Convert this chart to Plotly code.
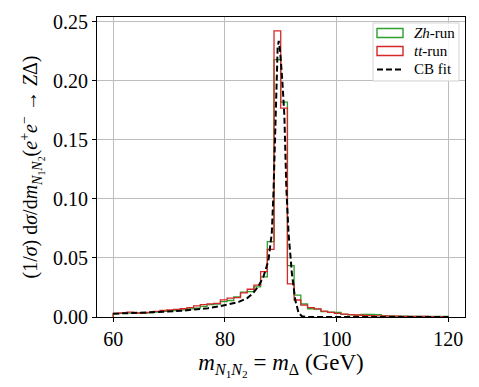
import numpy as np
import plotly.graph_objects as go

# histogram binning: 50 bins of 1.2 GeV between 60 and 120
bin_lo = 60.0
bin_hi = 120.0
n_bins = 50

# normalised bin contents, tt-run
tt_run = [
    0.0030, 0.0035, 0.0042, 0.0034, 0.0036, 0.0040, 0.0048, 0.0055, 0.0060, 0.0065,
    0.0070, 0.0080, 0.0095, 0.0105, 0.0112, 0.0115, 0.0145, 0.0160, 0.0165, 0.0205,
    0.0235, 0.0270, 0.0385, 0.0573, 0.2425, 0.1770, 0.0280, 0.0144, 0.0100, 0.0080,
    0.0068, 0.0050, 0.0040, 0.0030, 0.0024, 0.0020, 0.0017, 0.0014, 0.0012, 0.0010,
    0.0009, 0.0008, 0.0007, 0.0006, 0.0006, 0.0005, 0.0005, 0.0004, 0.0004, 0.0004,
]

# normalised bin contents, Zh-run
zh_run = [
    0.0028, 0.0030, 0.0033, 0.0032, 0.0030, 0.0036, 0.0042, 0.0048, 0.0052, 0.0055,
    0.0060, 0.0068, 0.0075, 0.0090, 0.0105, 0.0110, 0.0130, 0.0140, 0.0170, 0.0210,
    0.0215, 0.0255, 0.0340, 0.0638, 0.2180, 0.1820, 0.0436, 0.0185, 0.0110, 0.0070,
    0.0066, 0.0045, 0.0042, 0.0040, 0.0022, 0.0018, 0.0016, 0.0022, 0.0022, 0.0020,
    0.0010, 0.0009, 0.0008, 0.0007, 0.0006, 0.0005, 0.0005, 0.0005, 0.0006, 0.0005,
]

# crystal-ball fit curve
fit_x = [60, 63, 66, 69, 72, 75, 77, 79, 81, 82.5, 84, 85, 86, 86.9, 87.8, 88.4,
         88.7, 89.0, 89.2, 89.45, 89.65, 89.9, 90.3, 90.65, 91.0, 91.4, 92.0, 92.6,
         93.2, 93.8, 95, 100, 110, 120]
fit_y = [0.0028, 0.0032, 0.0037, 0.0044, 0.0052, 0.0062, 0.0075, 0.0090, 0.0110,
         0.0128, 0.0160, 0.0200, 0.0260, 0.0340, 0.0480, 0.0710, 0.1050, 0.1600,
         0.2000, 0.2280, 0.2340, 0.2250, 0.1990, 0.1710, 0.1100, 0.0710, 0.0370,
         0.0144, 0.0035, 0.0006, 0.0, 0.0, 0.0, 0.0]

x_ticks = [60, 80, 100, 120]
y_ticks = [0.00, 0.05, 0.10, 0.15, 0.20, 0.25]

legend_labels = ["<i>Zh</i>-run", "<i>tt</i>-run", "CB fit"]

GREEN = "#2ca02c"
RED = "#d62728"
FONT = "Liberation Serif"

# the page body adds an 8px offset, so the figure margins are shifted by it
OFF = 8
W, H = 479, 387
L, R, T, B = 97 - OFF, 14 + OFF, 17 - OFF, 70 + OFF

edges = np.linspace(bin_lo, bin_hi, n_bins + 1)


def step_outline(values):
    xs = [edges[0]] + list(edges[:-1]) + [edges[-1]]
    ys = [0.0] + list(values) + [0.0]
    return xs, ys


def px(x):
    return (x - OFF - L) / (W - L - R)


def py(y):
    return 1 - (y - OFF - T) / (H - T - B)


fig = go.Figure()

for vals, col in [(zh_run, GREEN), (tt_run, RED)]:
    xs, ys = step_outline(vals)
    fig.add_trace(go.Scatter(x=xs, y=ys, mode="lines", line=dict(color=col, width=1.3, shape="hv"),
                             showlegend=False, hoverinfo="skip"))

fig.add_trace(go.Scatter(x=fit_x, y=fit_y, mode="lines", showlegend=False,
                         line=dict(color="black", width=2, dash="6px,3px")))

axis_common = dict(
    showline=True, linecolor="black", linewidth=1.2, mirror=True,
    ticks="outside", ticklen=4, tickcolor="black", automargin=False,
    showgrid=True, gridcolor="#bdbdbd", gridwidth=1,
    zeroline=False, tickfont=dict(family=FONT, size=20, color="black"),
)

fig.update_xaxes(range=[57.1, 123.0], tickvals=x_ticks, ticktext=[str(t) for t in x_ticks],
                 title=dict(text="<i>m</i><sub><i>N</i><sub>1</sub><i>N</i><sub>2</sub></sub> = <i>m</i><sub>Δ</sub> (GeV)",
                            font=dict(family=FONT, size=23, color="black"), standoff=4),
                 **axis_common)
fig.update_yaxes(range=[0, 0.2542], tickvals=y_ticks, ticktext=[f"{t:.2f}" for t in y_ticks],
                 title=dict(text="(1/<i>σ</i>) d<i>σ</i>/d<i>m</i><sub><i>N</i><sub>1</sub><i>N</i><sub>2</sub></sub>"
                                 "(<i>e</i><sup>+</sup><i>e</i><sup>−</sup> → <i>Z</i>Δ)",
                            font=dict(family=FONT, size=20, color="black"), standoff=9),
                 **axis_common)

# hand-drawn legend box in the matplotlib style
shapes = [dict(type="rect", xref="paper", yref="paper", x0=px(373), x1=px(459), y0=py(81), y1=py(23),
               line=dict(color="#d5d5d5", width=1), fillcolor="rgba(255,255,255,0.85)", layer="above")]
rows = [33, 51, 69]
shapes.append(dict(type="rect", xref="paper", yref="paper", x0=px(377), x1=px(403), y0=py(37.5), y1=py(28.5),
                   line=dict(color=GREEN, width=1.4), layer="above"))
shapes.append(dict(type="rect", xref="paper", yref="paper", x0=px(377), x1=px(403), y0=py(55.5), y1=py(46.5),
                   line=dict(color=RED, width=1.4), layer="above"))
shapes.append(dict(type="line", xref="paper", yref="paper", x0=px(377), x1=px(404), y0=py(69.5), y1=py(69.5),
                   line=dict(color="black", width=2, dash="6px,3px"), layer="above"))
annotations = [dict(text=lab, xref="paper", yref="paper", x=px(412), y=py(r), xanchor="left", yanchor="middle",
                    showarrow=False, font=dict(family=FONT, size=15, color="black"))
               for lab, r in zip(legend_labels, rows)]

fig.update_layout(
    width=W, height=H,
    margin=dict(l=L, r=R, t=T, b=B),
    plot_bgcolor="white", paper_bgcolor="white",
    showlegend=False,
    shapes=shapes,
    annotations=annotations,
)

fig.write_html("out.html")
